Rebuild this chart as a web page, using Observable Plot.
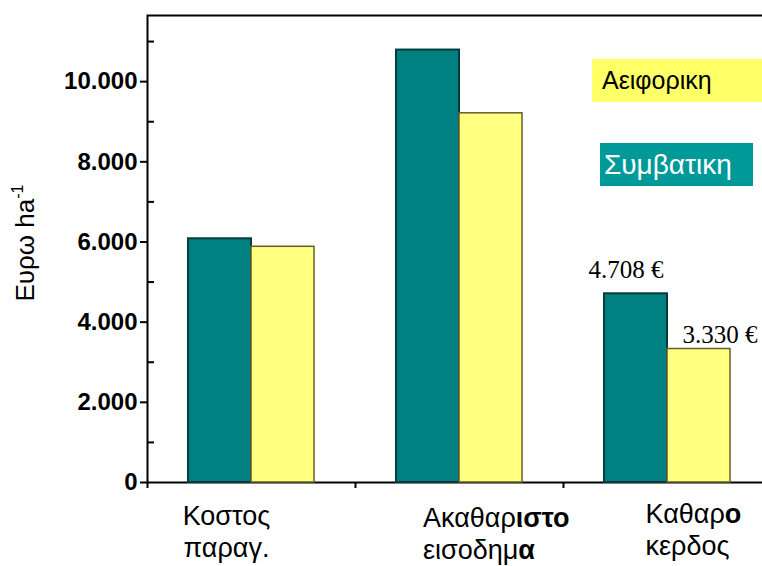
<!DOCTYPE html>
<html>
<head>
<meta charset="utf-8">
<script src="https://cdn.jsdelivr.net/npm/d3@7"></script>
<script src="https://cdn.jsdelivr.net/npm/@observablehq/plot@0.6"></script>
<style>
  html, body { margin: 0; padding: 0; background: #fff; }
  #chart { position: relative; width: 762px; height: 566px; overflow: hidden; font-family: "Liberation Sans", Arial, sans-serif; }
  .key { position: absolute; box-sizing: border-box; height: 43px; display: flex; align-items: center; white-space: nowrap; }
</style>
</head>
<body>
<div id="chart"></div>
<script>
// Cost, gross income and net profit per hectare (euro)
const categories = ["Κοστος παραγ.", "Ακαθαριστο εισοδημα", "Καθαρο κερδος"];
const conventional = [6080, 10788, 4708];   // Συμβατικη
const sustainable = [5880, 9210, 3330];     // Αειφορικη
const seriesNames = ["Αειφορικη", "Συμβατικη"];
const yTicks = [0, 2000, 4000, 6000, 8000, 10000];
const yMinorTicks = [1000, 3000, 5000, 7000, 9000, 11000];
const yMax = 11650;
const labelLines = [["Κοστος", "παραγ."], ["Ακαθαριστο", "εισοδημα"], ["Καθαρο", "κερδος"]];
const labelBold = [["", ""], ["ιστο", "α"], ["ο", ""]];  // emphasised word endings
const yAxisTitle = "Ευρω ha";
const yAxisExponent = "-1";

const colors = {conventional: "#008080", sustainable: "#ffff80"};
const keyColors = {conventional: "#009999", sustainable: "#ffff66"};

const rows = categories.map((category, i) => ({
  category,
  label: labelLines[i].join("\n"),
  conventional: conventional[i],
  sustainable: sustainable[i]
}));

// Greek number formatting: "." for thousands
const locale = d3.formatLocale({decimal: ",", thousands: ".", grouping: [3], currency: ["", " €"]});
const num = locale.format(",.0f");
const euro = v => num(v) + " €";

const W = 762, H = 566;
const margin = {left: 147, right: -9, top: 15, bottom: 84};
const step = (W - margin.right - margin.left) / categories.length;
const halfBar = 63;

// Per-label placement of the two-line category names
const labelPlacement = [
  {dx: -25, dy: 20, anchor: "middle"},
  {dx: -36.5, dy: 22, anchor: "start"},
  {dx: -22, dy: 18, anchor: "start"}
];

const serif = "'Liberation Serif', 'Times New Roman', serif";

const plot = Plot.plot({
  width: W,
  height: H,
  marginLeft: margin.left,
  marginRight: margin.right,
  marginTop: margin.top,
  marginBottom: margin.bottom,
  style: {fontFamily: "'Liberation Sans', Arial, sans-serif", color: "#000", background: "transparent", overflow: "visible"},
  x: {domain: categories, paddingInner: 0.395, paddingOuter: 0.1975},
  y: {domain: [0, yMax]},
  marks: [
    Plot.frame({stroke: "#000", strokeWidth: 2}),
    // major ticks outside, minor ticks inside the value axis
    Plot.axisY({ticks: yTicks, tickSize: 7, tickPadding: 3, strokeWidth: 2, tickFormat: num,
                fontSize: 24, fontWeight: "bold", label: null}),
    Plot.axisY({ticks: yMinorTicks, tickSize: 7, dx: 7, strokeWidth: 2, tickFormat: () => "", label: null}),
    // category dividers on the baseline
    Plot.axisX({ticks: categories, tickSize: 6, dx: -step / 2, strokeWidth: 2, tickFormat: () => "", label: null}),
    Plot.barY(rows, {x: "category", y: "conventional", fill: colors.conventional,
                     stroke: "#073b3b", strokeWidth: 2, insetRight: halfBar}),
    Plot.barY(rows, {x: "category", y: "sustainable", fill: colors.sustainable,
                     stroke: "#5f5f2e", strokeWidth: 1.5, insetLeft: halfBar}),
    // net profit values
    Plot.text(rows.slice(2), {x: "category", y: "conventional", text: d => euro(d.conventional),
                     dx: -41.5, dy: -16, lineAnchor: "bottom", fontFamily: serif, fontSize: 25, fill: "#000"}),
    Plot.text(rows.slice(2), {x: "category", y: "sustainable", text: d => euro(d.sustainable),
                     dx: 52.5, dy: -6, lineAnchor: "bottom", fontFamily: serif, fontSize: 25, fill: "#000"}),
    // category names below the axis
    ...rows.map((row, i) => Plot.text([row], {
      x: "category", text: "label", frameAnchor: "bottom", lineAnchor: "top", lineHeight: 1.18,
      textAnchor: labelPlacement[i].anchor, dx: labelPlacement[i].dx, dy: labelPlacement[i].dy,
      fontSize: 27, fill: "#000"
    }))
  ]
});

// bold word endings inside the category names
d3.select(plot).selectAll("text tspan").each(function() {
  const content = this.textContent;
  labelLines.forEach((lines, i) => lines.forEach((line, j) => {
    const bold = labelBold[i][j];
    if (!bold || content !== line) return;
    const t = d3.select(this);
    t.text(line.slice(0, line.length - bold.length));
    t.append("tspan").attr("font-weight", "bold").text(bold);
  }));
});

// value axis title with exponent
const title = d3.select(plot).append("text")
  .attr("transform", "translate(34,243) rotate(-90)")
  .attr("text-anchor", "middle")
  .attr("font-size", 26)
  .attr("fill", "#000");
title.append("tspan").text(yAxisTitle);
title.append("tspan").attr("font-size", 16).attr("dy", -11).text(yAxisExponent);

const chart = document.getElementById("chart");
chart.appendChild(plot);

// series key
const keys = [
  {name: seriesNames[0], bg: keyColors.sustainable, fg: "#000", left: 592, top: 59, width: 170, size: 25, pad: 10},
  {name: seriesNames[1], bg: keyColors.conventional, fg: "#fff", left: 600, top: 143, width: 153, size: 28, pad: 4}
];
for (const k of keys) {
  const div = document.createElement("div");
  div.className = "key";
  div.textContent = k.name;
  Object.assign(div.style, {
    left: k.left + "px", top: k.top + "px", width: k.width + "px",
    background: k.bg, color: k.fg, fontSize: k.size + "px", paddingLeft: k.pad + "px"
  });
  chart.appendChild(div);
}
</script>
</body>
</html>
